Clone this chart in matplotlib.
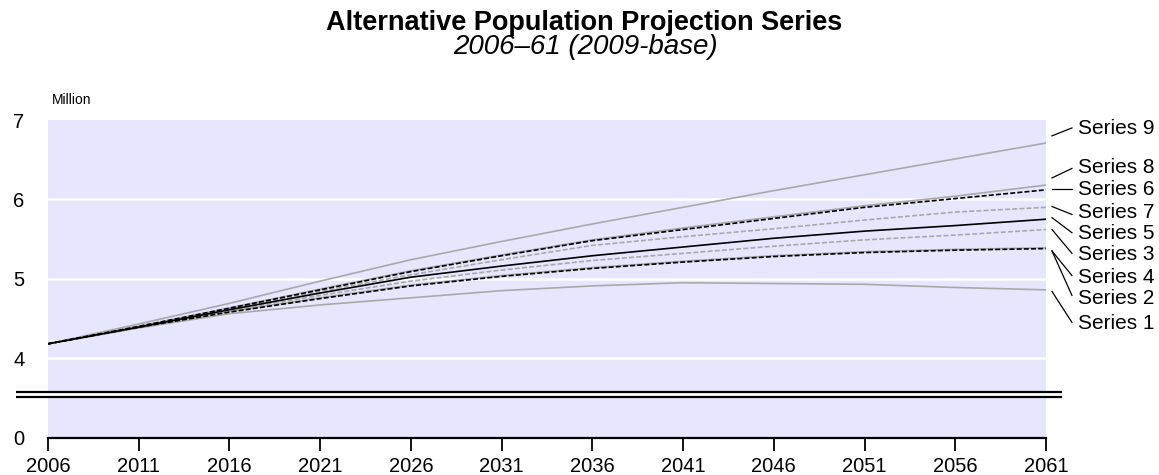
import matplotlib
matplotlib.use("Agg")
import matplotlib.pyplot as plt

plt.rcParams['font.family'] = ['Liberation Sans', 'DejaVu Sans']

years = [2006, 2011, 2016, 2021, 2026, 2031, 2036, 2041, 2046, 2051, 2056, 2061]

series_1 = [4.18, 4.38, 4.56, 4.67, 4.76, 4.85, 4.91, 4.95, 4.94, 4.93, 4.89, 4.86]
series_2 = [4.18, 4.39, 4.58, 4.75, 4.91, 5.03, 5.13, 5.21, 5.28, 5.33, 5.36, 5.38]
series_3 = [4.18, 4.39, 4.60, 4.79, 4.97, 5.11, 5.23, 5.32, 5.41, 5.49, 5.55, 5.62]
series_4 = [4.18, 4.39, 4.59, 4.76, 4.92, 5.04, 5.14, 5.22, 5.29, 5.34, 5.37, 5.39]
series_5 = [4.18, 4.39, 4.61, 4.82, 5.02, 5.16, 5.29, 5.40, 5.51, 5.60, 5.67, 5.75]
series_6 = [4.18, 4.40, 4.63, 4.86, 5.09, 5.29, 5.48, 5.62, 5.76, 5.90, 6.01, 6.12]
series_7 = [4.18, 4.40, 4.62, 4.84, 5.05, 5.24, 5.42, 5.53, 5.63, 5.74, 5.84, 5.90]
series_8 = [4.18, 4.40, 4.63, 4.87, 5.10, 5.30, 5.49, 5.64, 5.78, 5.92, 6.04, 6.18]
series_9 = [4.18, 4.43, 4.69, 4.97, 5.24, 5.47, 5.69, 5.90, 6.11, 6.31, 6.51, 6.71]

series_names = ["Series 1", "Series 2", "Series 3", "Series 4", "Series 5",
                "Series 6", "Series 7", "Series 8", "Series 9"]
series_values = [series_1, series_2, series_3, series_4, series_5,
                 series_6, series_7, series_8, series_9]

x_tick_labels = ["2006", "2011", "2016", "2021", "2026", "2031",
                 "2036", "2041", "2046", "2051", "2056", "2061"]
y_tick_labels = ["0", "4", "5", "6", "7"]

# ---- styles / layout ----
GRAY = "#A9A9A9"
styles = {
    "Series 1": dict(color=GRAY, ls="-", z=2),
    "Series 2": dict(color="black", ls="--", z=4),
    "Series 3": dict(color=GRAY, ls="--", z=3),
    "Series 4": dict(color=GRAY, ls="-", z=2),
    "Series 5": dict(color="black", ls="-", z=4),
    "Series 6": dict(color="black", ls="--", z=4),
    "Series 7": dict(color=GRAY, ls="--", z=3),
    "Series 8": dict(color=GRAY, ls="-", z=2),
    "Series 9": dict(color=GRAY, ls="-", z=2),
}
# label / connector layout (y in axis units)
label_y = {"Series 9": 6.89, "Series 8": 6.40, "Series 6": 6.13, "Series 7": 5.84,
           "Series 5": 5.57, "Series 3": 5.30, "Series 4": 5.02, "Series 2": 4.75,
           "Series 1": 4.44}
conn_start = {"Series 9": 6.80, "Series 8": 6.27, "Series 6": 6.13, "Series 7": 5.91,
              "Series 5": 5.77, "Series 3": 5.62, "Series 4": 5.35, "Series 2": 5.35,
              "Series 1": 4.84}
conn_end = {"Series 9": 6.90, "Series 8": 6.39, "Series 6": 6.13, "Series 7": 5.81,
            "Series 5": 5.58, "Series 3": 5.32, "Series 4": 5.04, "Series 2": 4.79,
            "Series 1": 4.45}

W, H = 1159, 475
fig = plt.figure(figsize=(W / 100, H / 100), dpi=100)
left_px, right_px, top_px, bot_px = 48, 1046, 120, 437.5
ax = fig.add_axes([left_px / W, (H - bot_px) / H, (right_px - left_px) / W, (bot_px - top_px) / H])
ax.set_xlim(2006, 2061)
ax.set_ylim(3, 7)
ax.set_facecolor("#E6E6FF")

for g in [4, 5, 6]:
    ax.axhline(g, color="white", lw=1.8, zorder=1)

for name, vals in zip(series_names, series_values):
    st = styles[name]
    kw = dict(color=st["color"], lw=1.2, zorder=st["z"])
    if st["ls"] == "--":
        kw["dashes"] = (3, 1.3)
    ax.plot(years, vals, **kw)

# axis break
ytr = ax.get_yaxis_transform()
ax.fill_between([-0.032, 1.016], 3.506, 3.57, transform=ytr, color="white",
                clip_on=False, zorder=5, lw=0)
for yb in (3.506, 3.57):
    ax.plot([-0.032, 1.016], [yb, yb], transform=ytr, color="black", lw=1.6,
            clip_on=False, zorder=6, solid_capstyle="butt")

# axes styling
for s in ["top", "right", "left"]:
    ax.spines[s].set_visible(False)
ax.spines["bottom"].set_linewidth(1.6)
ax.spines["bottom"].set_color("black")
ax.set_xticks(years)
ax.set_xticklabels(x_tick_labels, fontsize=14.5)
ax.tick_params(axis="x", length=9, width=1.3, direction="out", pad=5, colors="black")
ax.set_yticks([3, 4, 5, 6, 7])
ax.set_yticklabels(y_tick_labels, fontsize=14.5)
ax.tick_params(axis="y", length=0, pad=17)

# labels with connectors
x0 = 2061.33
x1 = 2062.43
xt = 2062.76
for name in series_names:
    ax.plot([x0, x1], [conn_start[name], conn_end[name]], color="black", lw=0.9,
            clip_on=False, zorder=6)
    ax.text(xt, label_y[name], name, fontsize=15, va="center", ha="left", clip_on=False)

fig.text(584 / W, 1 - 23 / H, "Alternative Population Projection Series",
         fontsize=19.5, fontweight="bold", ha="center", va="center")
fig.text(585 / W, 1 - 47 / H, "2006\u201361 (2009-base)", fontsize=20,
         fontstyle="italic", ha="center", va="center")
fig.text(52 / W, 1 - 100 / H, "Million", fontsize=10, ha="left", va="center")

fig.savefig("out.png", dpi=100)
